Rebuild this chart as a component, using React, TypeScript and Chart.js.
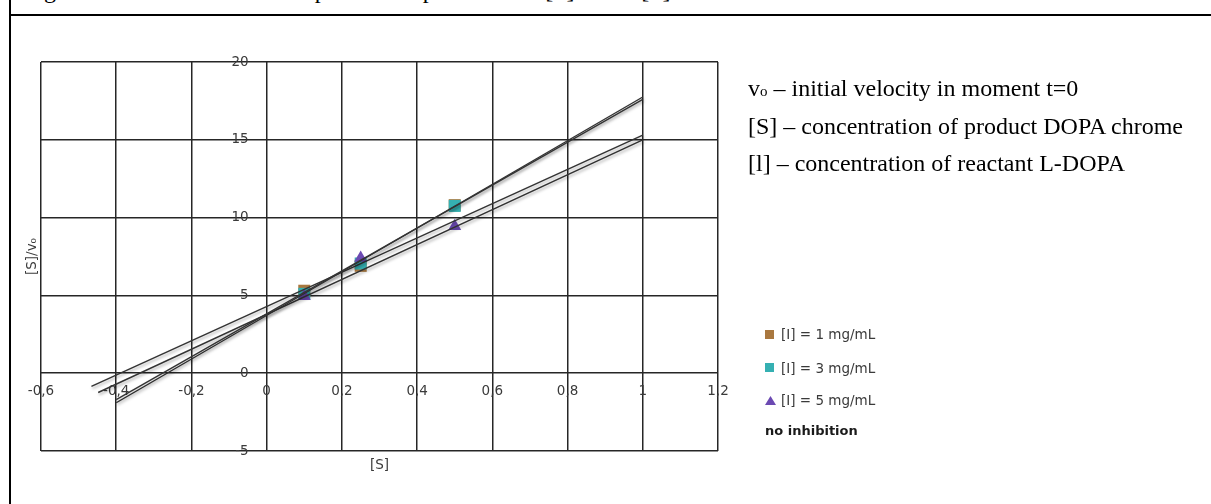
import React, { useEffect, useRef } from "react";
import { Chart, registerables } from "chart.js";

Chart.register(...registerables);

// ---- data ----
const sValues = [0.1, 0.25, 0.5];
const ratioI1 = [5.3, 6.9, 10.8];
const ratioI3 = [5.1, 7.05, 10.75];
const ratioI5 = [4.95, 7.4, 9.45];

// linear trendlines (end points)
const trendI1X = [-0.4, 1.0];
const trendI1Y = [-1.7, 17.6];
const trendI3X = [-0.4, 1.0];
const trendI3Y = [-1.9, 17.75];
const trendI5X = [-0.466, 1.0];
const trendI5Y = [-0.85, 15.3];
const trendNoInhX = [-0.448, 1.0];
const trendNoInhY = [-1.24, 15.0];

const seriesLabels = ["[I] = 1 mg/mL", "[I] = 3 mg/mL", "[I] = 5 mg/mL", "no inhibition"];
const seriesColors = ["#A9783F", "#35B0B2", "#6B49B2"];

const xTickValues = [-0.6, -0.4, -0.2, 0, 0.2, 0.4, 0.6, 0.8, 1, 1.2];
const xTickLabels = ["-0,6", "-0,4", "-0,2", "0", "0,2", "0,4", "0,6", "0,8", "1", "1,2"];
const yTickValues = [-5, 0, 5, 10, 15, 20];
const yTickLabels = ["-5", "0", "5", "10", "15", "20"];

const xTitle = "[S]";
const yTitle = "[S]/v₀";

const captionText = "Figure 5. Hanes–Woolf linear plot: the dependence of [S]/vo on [S]";
const notes = [
  ["v", "o", " – initial velocity in moment t=0"],
  ["[S] – concentration of product DOPA chrome"],
  ["[l] – concentration of reactant L-DOPA"],
];

const FONT = '"DejaVu Sans", Verdana, sans-serif';
const SERIF = '"Times New Roman", "Liberation Serif", serif';
const GRID = "#262626";
const TEXT = "#3a3a3a";

const toPts = (xs: number[], ys: number[]) => xs.map((x, i) => ({ x, y: ys[i] }));

const shadowPlugin = {
  id: "trendShadow",
  beforeDatasetDraw(chart: any, args: any) {
    const ds = chart.data.datasets[args.index];
    if (ds && ds.isTrend) {
      const ctx = chart.ctx;
      ctx.save();
      ctx.shadowColor = "rgba(0,0,0,0.35)";
      ctx.shadowBlur = 3;
      ctx.shadowOffsetX = 1;
      ctx.shadowOffsetY = 2;
    }
  },
  afterDatasetDraw(chart: any, args: any) {
    const ds = chart.data.datasets[args.index];
    if (ds && ds.isTrend) chart.ctx.restore();
  },
};

function ChartCanvas() {
  const ref = useRef<HTMLCanvasElement | null>(null);
  useEffect(() => {
    if (!ref.current) return;
    const trendStyle = {
      showLine: true,
      pointRadius: 0,
      pointHoverRadius: 0,
      borderColor: "#333333",
      borderWidth: 1.4,
      fill: false,
      isTrend: true,
      order: 0,
    };
    const chart = new Chart(ref.current, {
      type: "scatter",
      data: {
        datasets: [
          { label: "trend " + seriesLabels[0], data: toPts(trendI1X, trendI1Y), ...trendStyle } as any,
          { label: "trend " + seriesLabels[1], data: toPts(trendI3X, trendI3Y), ...trendStyle } as any,
          { label: "trend " + seriesLabels[2], data: toPts(trendI5X, trendI5Y), ...trendStyle } as any,
          { label: seriesLabels[3], data: toPts(trendNoInhX, trendNoInhY), ...trendStyle } as any,
          {
            label: seriesLabels[2],
            data: toPts(sValues, ratioI5),
            pointStyle: "triangle",
            pointRadius: 7.5,
            backgroundColor: seriesColors[2],
            borderWidth: 0,
            order: 1,
          },
          {
            label: seriesLabels[1],
            data: toPts(sValues, ratioI3),
            pointStyle: "rect",
            pointRadius: 8.5,
            backgroundColor: seriesColors[1],
            borderWidth: 0,
            order: 2,
          },
          {
            label: seriesLabels[0],
            data: toPts(sValues, ratioI1),
            pointStyle: "rect",
            pointRadius: 8.5,
            backgroundColor: seriesColors[0],
            borderWidth: 0,
            order: 3,
          },
        ],
      },
      options: {
        responsive: false,
        animation: false,
        devicePixelRatio: 1,
        layout: { padding: { left: 0, top: 42, right: 294, bottom: 26.8 } },
        plugins: { legend: { display: false }, tooltip: { enabled: false } },
        scales: {
          x: {
            type: "linear",
            position: "bottom",
            min: -0.6,
            max: 1.2,
            afterBuildTicks: (axis: any) => {
              axis.ticks = xTickValues.map((v) => ({ value: v }));
            },
            ticks: { display: false },
            grid: { color: GRID, lineWidth: 1.5, drawTicks: false },
            border: { display: false },
            title: {
              display: true,
              text: xTitle,
              color: TEXT,
              font: { family: FONT, size: 13.5 },
              padding: { top: 6, bottom: 0 },
            },
          },
          y: {
            type: "linear",
            position: "left",
            min: -5,
            max: 20,
            afterBuildTicks: (axis: any) => {
              axis.ticks = yTickValues.map((v) => ({ value: v }));
            },
            ticks: { display: false },
            grid: { color: GRID, lineWidth: 1.5, drawTicks: false },
            border: { display: false },
            title: {
              display: true,
              text: yTitle,
              color: TEXT,
              font: { family: FONT, size: 13.5 },
              padding: { top: 12.8, bottom: 0 },
            },
          },
          xLabels: {
            type: "linear",
            axis: "x",
            position: { y: 0 } as any,
            min: -0.6,
            max: 1.2,
            afterBuildTicks: (axis: any) => {
              axis.ticks = xTickValues.map((v) => ({ value: v }));
            },
            ticks: {
              color: TEXT,
              font: { family: FONT, size: 13.5 },
              padding: 10,
              maxRotation: 0,
              autoSkip: false,
              callback: (_v: any, i: number) => xTickLabels[i],
            },
            grid: { display: false, drawTicks: false },
            border: { display: false },
          } as any,
          yLabels: {
            type: "linear",
            axis: "y",
            // labels sit 18px left of the x = 0 axis line
            position: { x: -0.048 } as any,
            min: -5,
            max: 20,
            afterBuildTicks: (axis: any) => {
              axis.ticks = yTickValues.map((v) => ({ value: v }));
            },
            ticks: {
              color: TEXT,
              font: { family: FONT, size: 13.5 },
              padding: 0,
              autoSkip: false,
              callback: (_v: any, i: number) => yTickLabels[i],
            },
            grid: { display: false, drawTicks: false },
            border: { display: false },
          } as any,
        },
      } as any,
      plugins: [shadowPlugin],
    });
    return () => chart.destroy();
  }, []);
  return (
    <canvas
      ref={ref}
      width={1000}
      height={480}
      style={{ position: "absolute", left: 12, top: 20, width: 1000, height: 480 }}
    />
  );
}

function Legend() {
  const centers = [334, 367.7, 400, 430.7];
  const items = seriesLabels.map((label, i) => {
    let marker: any = null;
    if (i < 2) {
      marker = (
        <span
          style={{
            position: "absolute",
            left: 0,
            top: 5.5,
            width: 9,
            height: 9,
            background: seriesColors[i],
          }}
        />
      );
    } else if (i === 2) {
      marker = (
        <svg width={11} height={9} style={{ position: "absolute", left: 0, top: 5.5 }}>
          <polygon points="5.5,0 11,9 0,9" fill={seriesColors[2]} />
        </svg>
      );
    }
    const bold = i === 3;
    return (
      <div
        key={label}
        style={{
          position: "absolute",
          left: 765,
          top: centers[i] - 10,
          height: 20,
          width: 200,
        }}
      >
        {marker}
        <span
          style={{
            position: "absolute",
            left: bold ? 0 : 16,
            top: 0,
            lineHeight: "20px",
            fontFamily: FONT,
            fontSize: bold ? 13 : 13.5,
            fontWeight: bold ? 700 : 400,
            color: bold ? "#1a1a1a" : TEXT,
            whiteSpace: "nowrap",
          }}
        >
          {label}
        </span>
      </div>
    );
  });
  return <>{items}</>;
}

export default function App() {
  return (
    <div
      style={{
        position: "absolute",
        left: 0,
        top: 0,
        width: 1211,
        height: 504,
        overflow: "hidden",
        background: "#fff",
      }}
    >
      <div
        style={{
          position: "absolute",
          left: 24,
          top: -24,
          fontFamily: SERIF,
          fontSize: 24,
          lineHeight: "28px",
          whiteSpace: "nowrap",
          color: "#000",
        }}
      >
        {captionText}
      </div>
      <div style={{ position: "absolute", left: 9, top: 0, width: 2, height: 504, background: "#000" }} />
      <div style={{ position: "absolute", left: 9, top: 14, width: 1202, height: 2, background: "#000" }} />
      <ChartCanvas />
      <div
        style={{
          position: "absolute",
          left: 748,
          top: 70,
          fontFamily: SERIF,
          fontSize: 24,
          color: "#000",
          whiteSpace: "nowrap",
        }}
      >
        {notes.map((n, i) => (
          <div key={i} style={{ height: 37.5, lineHeight: "37.5px" }}>
            {n.length === 3 ? (
              <>
                {n[0]}
                <span style={{ fontSize: 15, lineHeight: "10px" }}>{n[1]}</span>
                {n[2]}
              </>
            ) : (
              n[0]
            )}
          </div>
        ))}
      </div>
      <Legend />
    </div>
  );
}
